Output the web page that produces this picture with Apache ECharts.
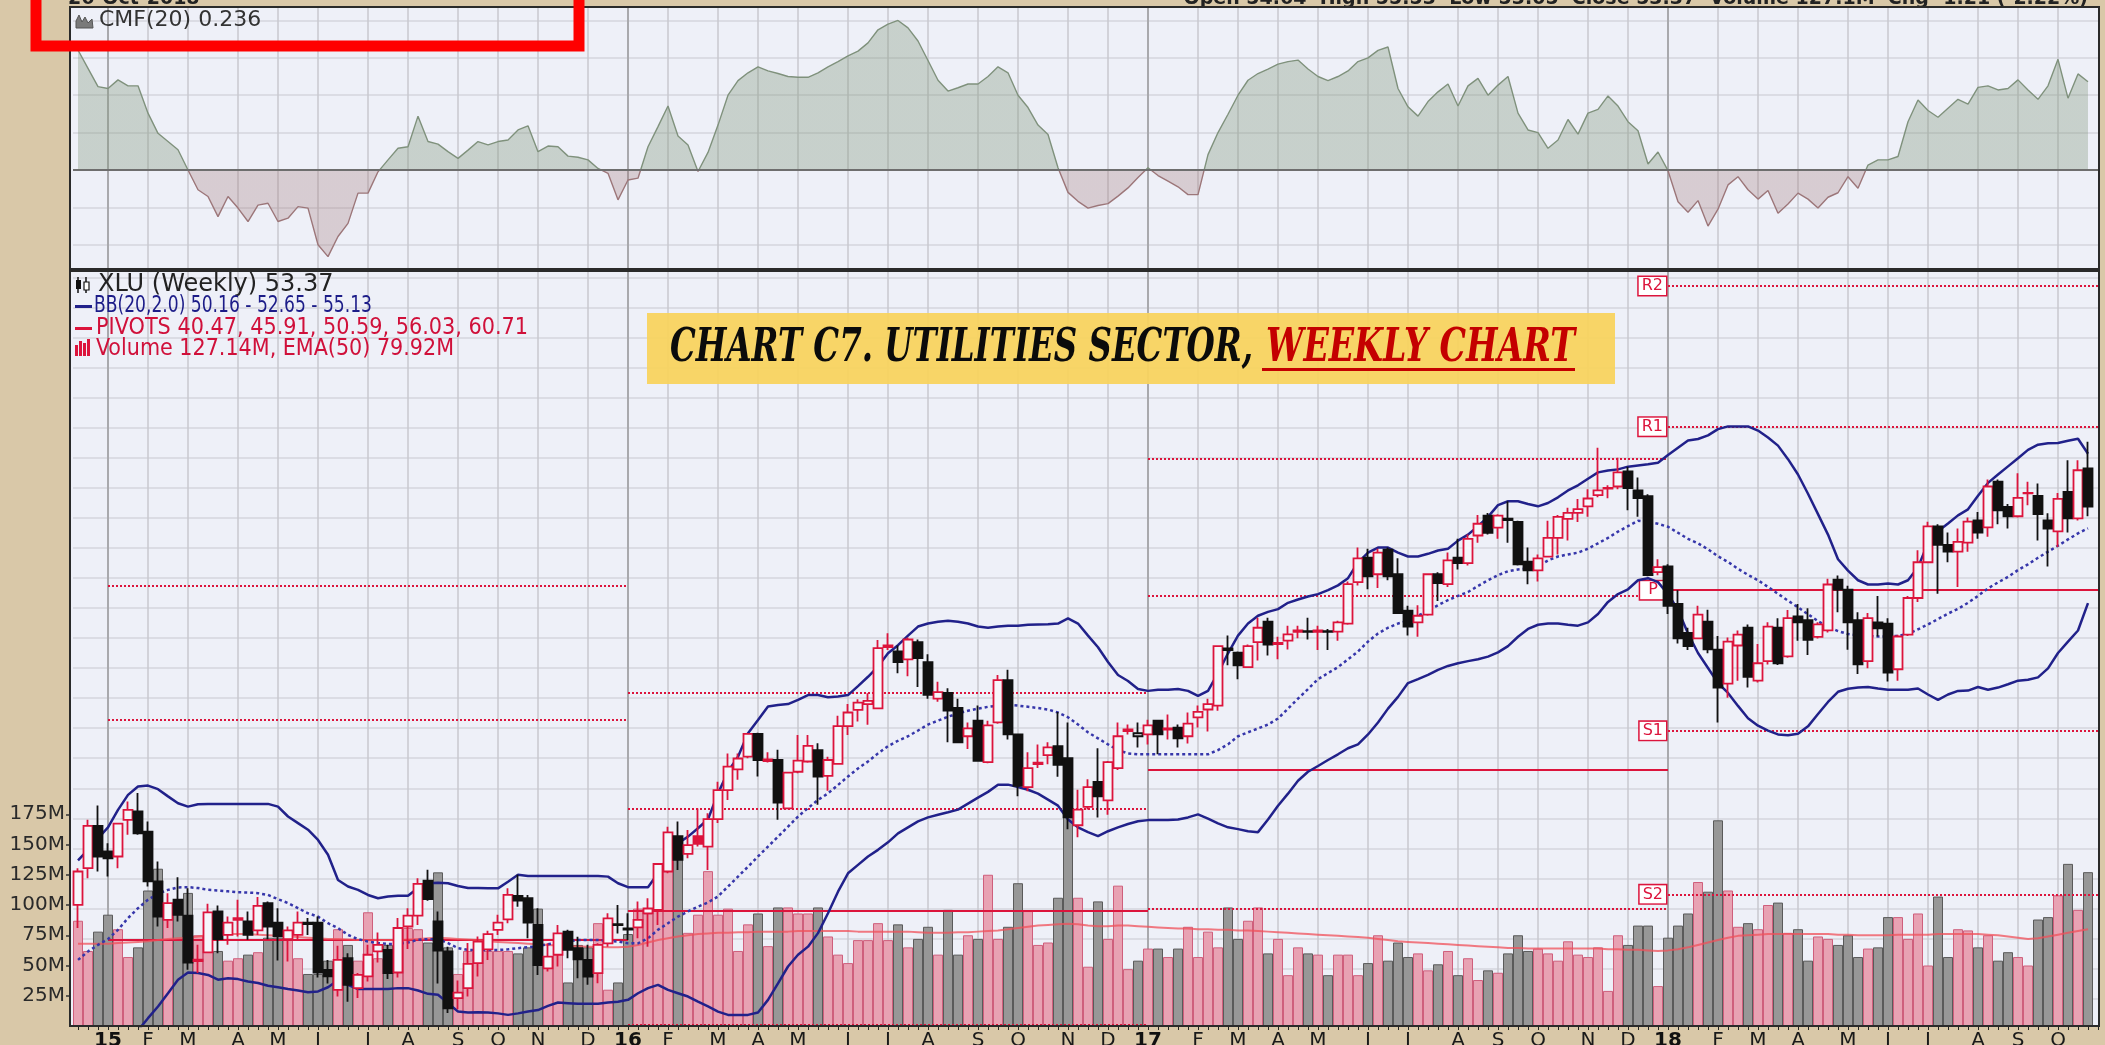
<!DOCTYPE html>
<html>
<head>
<meta charset="utf-8">
<title>XLU weekly</title>
<script src="https://cdn.jsdelivr.net/npm/echarts@6/dist/echarts.min.js"></script>
<style>
  html, body { margin: 0; padding: 0; background: #d9c8a8; }
  #chart { width: 2105px; height: 1045px; }
</style>
</head>
<body>
<div id="chart"></div>
<script>
// ---------------------------------------------------------------
// XLU weekly bars, one entry per week starting Monday 2014-12-15
// ---------------------------------------------------------------
const firstWeekMonday = '2014-12-15';
const monthLetters = ['J', 'F', 'M', 'A', 'M', 'J', 'J', 'A', 'S', 'O', 'N', 'D'];
const monthShort = ['Jan', 'Feb', 'Mar', 'Apr', 'May', 'Jun', 'Jul', 'Aug', 'Sep', 'Oct', 'Nov', 'Dec'];

const opens = [
  40.12, 41.34, 42.75, 41.90, 41.73, 42.95, 43.23, 42.56, 40.90, 39.62,
  40.29, 39.76, 38.25, 38.54, 39.90, 39.12, 39.62, 39.57, 39.27, 40.18,
  39.53, 38.98, 39.12, 39.53, 39.53, 37.96, 37.29, 38.35, 37.35, 37.74,
  38.57, 38.62, 37.87, 39.40, 39.76, 40.93, 39.57, 38.57, 37.02, 37.35,
  38.18, 38.64, 39.29, 39.64, 40.42, 40.34, 39.45, 38.01, 38.46, 39.23,
  38.68, 38.29, 37.85, 38.84, 39.48, 39.34, 39.37, 39.84, 39.95, 41.23,
  42.41, 41.82, 42.41, 42.06, 42.97, 43.94, 44.63, 45.05, 45.81, 44.90,
  44.94, 43.33, 44.55, 44.89, 45.27, 44.41, 44.81, 46.07, 46.61, 46.80,
  46.66, 48.70, 48.55, 48.29, 48.86, 48.20, 46.98, 47.17, 46.67, 45.73,
  46.25, 44.87, 46.19, 47.60, 45.79, 44.04, 44.80, 45.10, 45.40, 45.00,
  42.77, 43.38, 44.21, 43.60, 44.67, 45.90, 45.73, 45.79, 46.25, 45.95,
  46.02, 45.73, 46.36, 46.62, 46.75, 48.65, 48.51, 48.03, 48.86, 49.54,
  48.80, 48.91, 49.20, 49.23, 49.20, 49.20, 49.21, 49.48, 50.86, 51.67,
  51.12, 51.94, 51.12, 49.91, 49.52, 49.78, 51.12, 50.79, 51.67, 51.49,
  52.41, 53.07, 52.67, 52.97, 52.86, 51.54, 51.25, 51.71, 52.33, 52.96,
  53.16, 53.38, 53.75, 53.97, 54.04, 54.54, 53.91, 53.72, 51.19, 51.38,
  50.13, 49.17, 48.99, 49.54, 48.61, 47.48, 48.75, 49.34, 47.58, 48.23,
  49.34, 48.39, 49.72, 49.59, 49.04, 49.25, 50.94, 50.61, 49.59, 48.23,
  49.52, 49.48, 47.96, 49.11, 50.33, 51.52, 52.71, 52.10, 51.87, 52.17,
  52.91, 52.68, 54.20, 53.36, 53.05, 53.81, 53.73, 52.91, 52.55, 53.86,
  52.98, 54.64
];
const closes = [
  41.23, 42.75, 41.73, 41.67, 42.82, 43.28, 42.50, 40.90, 39.73, 40.18,
  39.79, 38.20, 38.30, 39.87, 38.98, 39.53, 39.68, 39.12, 40.09, 39.40,
  39.07, 39.27, 39.53, 39.48, 37.87, 37.74, 38.29, 37.46, 37.79, 38.46,
  38.79, 37.85, 39.35, 39.76, 40.82, 40.31, 38.60, 36.68, 37.20, 38.16,
  38.90, 39.15, 39.53, 40.45, 40.26, 39.53, 38.12, 38.40, 39.17, 38.62,
  38.31, 37.73, 38.79, 39.67, 39.45, 39.30, 39.62, 40.00, 41.48, 42.53,
  41.62, 42.11, 42.15, 42.97, 43.94, 44.72, 44.99, 45.81, 44.94, 44.96,
  43.52, 44.52, 44.92, 45.41, 44.39, 44.94, 46.07, 46.52, 46.85, 46.91,
  48.66, 48.75, 48.20, 48.95, 48.33, 47.11, 47.20, 46.58, 45.53, 45.99,
  44.91, 46.09, 47.60, 45.79, 44.08, 44.67, 44.85, 45.36, 44.78, 43.03,
  43.29, 44.04, 43.73, 44.87, 45.73, 45.96, 45.83, 46.09, 45.79, 45.99,
  45.66, 46.15, 46.54, 46.80, 48.73, 48.60, 48.09, 48.73, 49.34, 48.78,
  48.84, 49.12, 49.25, 49.20, 49.25, 49.23, 49.52, 50.79, 51.65, 51.05,
  51.84, 51.05, 49.83, 49.38, 49.74, 51.12, 50.83, 51.58, 51.49, 52.30,
  52.80, 52.50, 53.07, 52.92, 51.45, 51.25, 51.65, 52.33, 53.03, 53.16,
  53.29, 53.64, 53.91, 53.99, 54.51, 53.99, 53.65, 51.09, 51.36, 50.07,
  48.99, 48.73, 49.78, 48.62, 47.35, 48.88, 49.11, 47.71, 48.16, 49.38,
  48.16, 49.66, 49.52, 48.94, 49.45, 50.78, 50.61, 49.52, 48.12, 49.66,
  49.32, 47.85, 49.05, 50.33, 51.52, 52.71, 52.10, 51.87, 52.20, 52.87,
  52.51, 54.04, 53.25, 53.05, 53.66, 53.83, 53.12, 52.64, 53.63, 52.98,
  54.58, 53.37
];
const lows = [
  39.35, 41.01, 41.23, 41.06, 41.34, 42.45, 42.45, 40.73, 39.40, 39.35,
  39.57, 37.96, 37.85, 38.51, 38.51, 38.79, 39.07, 38.96, 39.12, 38.98,
  38.27, 38.24, 38.96, 39.12, 37.70, 37.50, 37.07, 36.90, 37.02, 37.57,
  38.20, 37.65, 37.70, 38.65, 39.45, 40.26, 37.50, 36.52, 36.65, 37.07,
  37.74, 38.29, 39.12, 39.51, 40.06, 39.01, 37.79, 37.90, 38.07, 38.34,
  37.68, 37.46, 37.51, 38.73, 39.17, 38.95, 39.01, 38.73, 39.45, 41.17,
  41.28, 41.67, 42.06, 41.28, 42.84, 43.61, 44.28, 45.00, 44.39, 44.86,
  42.95, 43.33, 44.50, 44.85, 43.45, 43.92, 44.78, 45.77, 46.22, 46.11,
  46.66, 48.60, 47.83, 47.73, 47.37, 46.98, 46.88, 45.53, 45.53, 45.31,
  44.91, 44.83, 46.15, 45.62, 43.73, 43.90, 44.67, 44.80, 44.38, 42.64,
  42.37, 43.29, 43.03, 43.12, 44.61, 45.79, 45.36, 45.46, 45.13, 45.62,
  45.36, 45.49, 46.02, 45.89, 46.58, 48.09, 47.63, 48.03, 48.25, 48.42,
  48.29, 48.62, 48.99, 48.95, 48.60, 48.60, 48.91, 49.44, 50.75, 50.62,
  50.66, 50.92, 49.80, 49.08, 49.04, 49.74, 50.23, 50.70, 51.28, 51.41,
  52.17, 52.44, 52.30, 52.17, 51.41, 50.79, 50.88, 51.71, 51.78, 52.24,
  52.86, 53.03, 53.68, 53.65, 53.95, 53.25, 53.03, 51.05, 51.09, 49.80,
  48.82, 48.60, 48.99, 48.49, 46.19, 47.01, 47.58, 47.35, 47.52, 48.12,
  48.10, 48.34, 48.91, 48.43, 48.98, 49.18, 49.86, 48.61, 47.80, 47.99,
  49.05, 47.55, 47.58, 49.07, 50.20, 51.52, 50.47, 51.52, 50.70, 51.87,
  52.30, 52.37, 52.78, 52.64, 53.01, 53.42, 52.24, 51.38, 52.03, 52.51,
  52.91, 53.05
];
const highs = [
  41.34, 42.95, 43.43, 42.17, 42.84, 43.56, 43.84, 42.89, 41.56, 40.51,
  41.04, 40.67, 38.79, 40.16, 40.10, 39.73, 40.29, 39.90, 40.38, 40.23,
  40.01, 39.40, 39.90, 39.68, 39.73, 38.29, 38.76, 38.51, 37.85, 38.79,
  39.20, 38.79, 39.68, 40.01, 41.01, 41.29, 39.90, 38.73, 37.60, 38.85,
  39.07, 39.26, 39.79, 40.67, 41.12, 40.45, 40.01, 38.84, 39.45, 39.29,
  39.06, 38.79, 38.84, 39.84, 40.12, 39.84, 40.23, 40.34, 41.50, 42.72,
  42.89, 42.61, 43.33, 43.17, 44.22, 45.16, 45.16, 45.83, 45.85, 45.20,
  45.28, 44.55, 45.77, 45.77, 45.50, 45.05, 46.41, 46.80, 46.96, 47.16,
  48.93, 49.16, 48.75, 49.02, 48.95, 48.46, 47.54, 47.33, 46.98, 46.19,
  46.75, 46.25, 47.77, 47.94, 45.79, 45.20, 45.46, 45.53, 46.54, 46.19,
  43.95, 44.30, 45.33, 44.91, 46.19, 46.12, 46.19, 46.28, 46.28, 46.45,
  46.12, 46.52, 46.75, 46.98, 48.73, 49.08, 48.55, 48.78, 49.67, 49.67,
  49.04, 49.41, 49.41, 49.67, 49.41, 49.30, 49.57, 50.88, 52.01, 51.97,
  51.97, 52.01, 51.65, 50.07, 50.09, 51.15, 51.19, 51.84, 52.30, 52.44,
  53.09, 53.16, 53.12, 53.55, 52.90, 52.01, 51.78, 52.90, 53.09, 53.33,
  53.62, 53.95, 55.33, 54.08, 55.00, 54.70, 54.34, 53.78, 51.62, 51.45,
  50.59, 49.34, 50.07, 49.94, 49.07, 49.02, 49.25, 49.45, 48.80, 49.52,
  49.66, 49.93, 50.13, 49.99, 49.52, 50.97, 51.08, 50.74, 49.86, 49.83,
  50.40, 49.66, 49.11, 50.40, 51.92, 52.87, 52.78, 52.51, 52.64, 53.01,
  53.19, 54.27, 54.27, 53.46, 54.48, 54.20, 54.14, 53.15, 53.82, 54.91,
  54.91, 55.53
];
// weekly volume, millions of shares
const volumes = [
  87, 62, 78, 92, 80, 57, 65, 112, 130, 95,
  100, 110, 75, 82, 62, 54, 56, 59, 61, 73,
  73, 72, 56, 43, 43, 54, 80, 67, 54, 94,
  56, 67, 70, 81, 80, 69, 127, 65, 43, 62,
  69, 62, 62, 62, 60, 65, 97, 54, 70, 36,
  67, 65, 85, 30, 36, 76, 97, 93, 132, 147,
  138, 77, 92, 128, 92, 97, 62, 84, 93, 66,
  98, 98, 93, 93, 98, 74, 59, 52, 71, 71,
  85, 71, 84, 65, 72, 82, 59, 96, 59, 75,
  72, 125, 72, 82, 118, 95, 67, 69, 106, 173,
  106, 49, 103, 72, 116, 47, 54, 64, 64, 57,
  64, 82, 57, 78, 65, 98, 72, 87, 98, 60,
  72, 42, 65, 60, 59, 42, 59, 59, 42, 52,
  75, 54, 69, 57, 60, 46, 51, 62, 42, 56,
  38, 46, 44, 60, 75, 62, 64, 60, 54, 70,
  59, 57, 65, 29, 75, 67, 83, 83, 33, 73,
  83, 93, 119, 111, 170, 112, 82, 85, 80, 100,
  102, 77, 80, 54, 74, 72, 67, 75, 57, 64,
  65, 90, 90, 72, 93, 50, 107, 57, 80, 79,
  65, 75, 54, 61, 57, 50, 88, 90, 108, 134,
  96, 127.14
];
const volumeEma50 = [
  68, 68, 68, 68, 68.5, 69, 69.5, 70, 71, 72,
  72.5, 73, 74, 75, 75.5, 76, 76, 76, 75.5, 75,
  74.5, 74, 73.5, 73, 72.5, 72, 72, 71.5, 71, 71,
  71, 71, 71, 71.5, 72, 72.5, 73, 72.5, 72, 71.5,
  71, 70, 69.5, 69, 68.5, 68, 67.5, 67, 66.5, 66,
  66, 65.5, 65.5, 65, 65, 65.5, 67, 69, 71, 72.5,
  74, 75, 76, 76.5, 77, 77, 77.5, 77.5, 78, 78,
  78, 78, 78.5, 78.5, 78.5, 78.5, 78.5, 78.5, 78, 78,
  78, 78, 78, 78, 77.5, 77, 77, 77, 77.5, 77.5,
  78, 78.5, 79, 80, 81, 82, 83, 83.5, 84, 84.5,
  84, 83, 82.5, 82.5, 83, 83, 82.5, 82, 81.5, 81,
  80.5, 80.5, 80, 80, 79.5, 79.5, 79, 79, 78.5, 78,
  77.5, 77, 76.5, 76, 75.5, 75, 74.5, 74, 73.5, 73,
  72, 71, 70, 69.5, 69, 68.5, 68, 67.5, 67, 66.5,
  66, 65.5, 65, 64.5, 64.5, 64, 64, 64, 64, 64,
  64, 64, 64, 63.5, 63.5, 63, 63, 62.5, 62, 62.5,
  63.5, 65, 67, 69, 71, 73, 74.5, 75, 75.5, 76,
  76, 76, 76, 76, 76, 76, 75.5, 75.5, 75, 75,
  75, 75, 75.5, 75.5, 75.5, 75.5, 76, 76, 76, 76,
  76, 75.5, 75, 74, 73, 72, 72.5, 74, 75.5, 77,
  78.5, 79.92
];
// Bollinger Bands (20, 2.0)
const bbUpper = [
  41.60, 41.95, 42.33, 42.70, 43.28, 43.78, 44.06, 44.09, 43.97, 43.73,
  43.50, 43.39, 43.47, 43.48, 43.48, 43.48, 43.48, 43.48, 43.48, 43.48,
  43.39, 43.06, 42.84, 42.62, 42.28, 41.79, 40.95, 40.73, 40.62, 40.45,
  40.34, 40.40, 40.42, 40.42, 40.68, 40.84, 40.86, 40.84, 40.75, 40.68,
  40.68, 40.67, 40.67, 40.89, 41.12, 41.08, 41.08, 41.08, 41.08, 41.08,
  41.08, 41.08, 41.08, 41.06, 40.84, 40.71, 40.71, 40.71, 41.17, 41.73,
  42.17, 42.39, 42.67, 42.97, 43.83, 44.55, 45.05, 45.83, 46.27, 46.72,
  46.77, 46.80, 46.94, 47.10, 47.10, 47.03, 47.05, 47.10, 47.40, 47.71,
  48.05, 48.49, 48.76, 49.08, 49.38, 49.48, 49.54, 49.57, 49.54, 49.48,
  49.38, 49.34, 49.38, 49.41, 49.41, 49.44, 49.45, 49.46, 49.48, 49.65,
  49.48, 49.08, 48.69, 48.20, 47.77, 47.57, 47.30, 47.24, 47.28, 47.28,
  47.30, 47.24, 47.07, 47.24, 47.83, 48.49, 49.08, 49.48, 49.74, 49.87,
  49.96, 50.17, 50.28, 50.38, 50.46, 50.59, 50.75, 50.99, 51.51, 51.84,
  52.01, 52.01, 51.84, 51.71, 51.71, 51.80, 51.91, 51.97, 52.24, 52.44,
  52.72, 53.03, 53.42, 53.55, 53.55, 53.46, 53.38, 53.49, 53.68, 53.91,
  54.08, 54.30, 54.51, 54.57, 54.61, 54.70, 54.74, 54.78, 54.83, 55.09,
  55.33, 55.57, 55.62, 55.74, 55.95, 56.04, 56.04, 56.04, 55.90, 55.67,
  55.40, 54.95, 54.44, 53.80, 53.12, 52.44, 51.62, 51.24, 50.92, 50.78,
  50.78, 50.81, 50.78, 50.92, 51.35, 52.17, 52.55, 52.81, 53.08, 53.28,
  53.73, 54.16, 54.44, 54.71, 54.98, 55.26, 55.43, 55.48, 55.49, 55.56,
  55.63, 55.13
];
const bbMiddle = [
  38.29, 38.57, 38.79, 38.98, 39.29, 39.68, 40.01, 40.29, 40.49, 40.62,
  40.70, 40.71, 40.68, 40.62, 40.60, 40.57, 40.54, 40.53, 40.51, 40.45,
  40.31, 40.18, 40.01, 39.84, 39.73, 39.51, 39.35, 39.12, 38.98, 38.90,
  38.85, 38.82, 38.82, 38.87, 38.96, 38.98, 38.98, 38.85, 38.68, 38.62,
  38.61, 38.62, 38.62, 38.64, 38.68, 38.71, 38.75, 38.81, 38.86, 38.91,
  38.95, 38.95, 38.95, 38.92, 38.90, 38.84, 38.84, 39.01, 39.29, 39.51,
  39.73, 39.90, 40.06, 40.20, 40.40, 40.73, 41.06, 41.39, 41.73, 42.06,
  42.39, 42.72, 43.06, 43.34, 43.61, 43.83, 44.11, 44.39, 44.66, 44.89,
  45.16, 45.40, 45.58, 45.73, 45.92, 46.12, 46.25, 46.38, 46.49, 46.58,
  46.65, 46.71, 46.75, 46.78, 46.75, 46.71, 46.67, 46.62, 46.52, 46.36,
  46.12, 45.86, 45.66, 45.46, 45.27, 45.16, 45.13, 45.13, 45.13, 45.13,
  45.13, 45.13, 45.13, 45.13, 45.27, 45.46, 45.73, 45.86, 45.99, 46.12,
  46.32, 46.65, 46.98, 47.30, 47.63, 47.83, 48.03, 48.29, 48.55, 48.88,
  49.15, 49.34, 49.48, 49.57, 49.74, 49.91, 50.09, 50.26, 50.40, 50.53,
  50.73, 50.92, 51.09, 51.22, 51.28, 51.32, 51.38, 51.58, 51.71, 51.78,
  51.84, 51.97, 52.15, 52.33, 52.54, 52.72, 52.90, 52.86, 52.80, 52.70,
  52.50, 52.30, 52.15, 51.95, 51.72, 51.53, 51.30, 51.10, 50.92, 50.70,
  50.47, 50.24, 50.02, 49.79, 49.56, 49.37, 49.23, 49.13, 49.09, 49.07,
  49.05, 49.05, 49.07, 49.14, 49.29, 49.45, 49.63, 49.81, 49.97, 50.17,
  50.40, 50.65, 50.85, 51.03, 51.26, 51.45, 51.67, 51.87, 52.07, 52.28,
  52.48, 52.65
];
const bbLower = [
  34.90, 35.20, 35.30, 35.30, 35.30, 35.60, 35.94, 36.35, 36.74, 37.18,
  37.63, 37.87, 37.85, 37.79, 37.63, 37.68, 37.65, 37.57, 37.52, 37.43,
  37.38, 37.32, 37.27, 37.21, 37.24, 37.38, 37.61, 37.46, 37.32, 37.32,
  37.32, 37.32, 37.35, 37.35, 37.27, 37.16, 37.13, 36.85, 36.57, 36.54,
  36.55, 36.54, 36.51, 36.46, 36.51, 36.57, 36.62, 36.76, 36.87, 36.85,
  36.83, 36.83, 36.83, 36.87, 36.90, 36.96, 37.18, 37.35, 37.46, 37.29,
  37.18, 37.07, 36.90, 36.74, 36.57, 36.46, 36.46, 36.46, 36.54, 36.96,
  37.51, 38.07, 38.46, 38.73, 39.18, 39.84, 40.56, 41.17, 41.45, 41.73,
  41.95, 42.20, 42.50, 42.70, 42.90, 43.03, 43.12, 43.20, 43.29, 43.49,
  43.69, 43.88, 44.12, 44.12, 44.04, 43.95, 43.82, 43.62, 43.42, 42.96,
  42.70, 42.54, 42.41, 42.57, 42.70, 42.81, 42.90, 42.94, 42.94, 42.94,
  42.96, 43.03, 43.13, 42.99, 42.83, 42.70, 42.64, 42.57, 42.54, 42.96,
  43.42, 43.82, 44.25, 44.55, 44.74, 44.94, 45.13, 45.33, 45.46, 45.79,
  46.19, 46.65, 47.04, 47.50, 47.63, 47.77, 47.94, 48.07, 48.16, 48.23,
  48.29, 48.38, 48.52, 48.73, 49.04, 49.30, 49.44, 49.48, 49.48, 49.44,
  49.41, 49.52, 49.80, 50.20, 50.46, 50.62, 50.92, 50.99, 50.86, 50.46,
  49.94, 49.15, 48.50, 48.00, 47.50, 47.17, 46.74, 46.33, 46.08, 45.92,
  45.79, 45.76, 45.81, 46.06, 46.47, 46.87, 47.21, 47.31, 47.35, 47.37,
  47.32, 47.28, 47.28, 47.28, 47.32, 47.12, 46.94, 47.12, 47.24, 47.25,
  47.37, 47.28, 47.35, 47.46, 47.58, 47.61, 47.69, 47.99, 48.50, 48.88,
  49.25, 50.16
];
// Chaikin Money Flow (20)
const cmf20 = [
  0.321, 0.272, 0.223, 0.218, 0.241, 0.225, 0.225, 0.152, 0.098, 0.076,
  0.054, 0.000, -0.053, -0.071, -0.125, -0.071, -0.102, -0.138, -0.094, -0.089,
  -0.138, -0.129, -0.098, -0.102, -0.200, -0.232, -0.178, -0.143, -0.062, -0.062,
  -0.005, 0.027, 0.058, 0.062, 0.144, 0.076, 0.069, 0.049, 0.031, 0.053,
  0.076, 0.067, 0.076, 0.080, 0.107, 0.118, 0.049, 0.064, 0.062, 0.037,
  0.034, 0.027, 0.004, -0.009, -0.080, -0.027, -0.022, 0.062, 0.116, 0.171,
  0.091, 0.067, -0.004, 0.047, 0.120, 0.200, 0.239, 0.260, 0.276, 0.265,
  0.258, 0.250, 0.248, 0.248, 0.260, 0.276, 0.290, 0.305, 0.318, 0.340,
  0.375, 0.390, 0.400, 0.380, 0.345, 0.293, 0.240, 0.211, 0.220, 0.230,
  0.230, 0.250, 0.276, 0.260, 0.200, 0.167, 0.120, 0.095, 0.006, -0.060,
  -0.084, -0.102, -0.095, -0.090, -0.070, -0.048, -0.020, 0.006, -0.015, -0.030,
  -0.045, -0.066, -0.066, 0.041, 0.100, 0.149, 0.200, 0.240, 0.258, 0.270,
  0.283, 0.290, 0.294, 0.270, 0.250, 0.239, 0.250, 0.265, 0.290, 0.300,
  0.320, 0.329, 0.218, 0.169, 0.144, 0.183, 0.209, 0.230, 0.171, 0.225,
  0.245, 0.200, 0.227, 0.250, 0.152, 0.107, 0.100, 0.058, 0.080, 0.135,
  0.096, 0.152, 0.162, 0.198, 0.171, 0.129, 0.105, 0.016, 0.048, -0.002,
  -0.085, -0.113, -0.082, -0.150, -0.105, -0.040, -0.018, -0.053, -0.078, -0.055,
  -0.116, -0.091, -0.062, -0.078, -0.102, -0.073, -0.061, -0.018, -0.049, 0.013,
  0.027, 0.027, 0.036, 0.129, 0.187, 0.159, 0.141, 0.165, 0.189, 0.176,
  0.221, 0.225, 0.214, 0.218, 0.241, 0.214, 0.189, 0.225, 0.296, 0.192,
  0.257, 0.236
];
// Yearly pivot levels, each drawn across its calendar year
const pivotYears = [2015, 2016, 2017, 2018];
const pivotR2 = [50.73, 47.18, 54.97, 60.71];
const pivotR1 = [46.27, 43.32, 50.40, 56.03];
const pivotP  = [38.96, 39.93, 44.60, 50.59];
const pivotS1 = [34.50, 36.13, 39.99, 45.91];
const pivotS2 = [27.20, 32.70, 34.30, 40.47];

const volumeTickLabels = [25, 50, 75, 100, 125, 150, 175];
const cmfGridLevels = [-0.2, -0.1, 0.1, 0.2, 0.3, 0.4];

// ---------------------------------------------------------------
// layout
// ---------------------------------------------------------------
const PANEL_X = 70, PANEL_W = 2029;
const CMF_TOP = 7, CMF_H = 262;
const PRICE_TOP = 271, PRICE_H = 755;
const PLOT_LEFT = 73, PLOT_W = 2030;           // 10 px per weekly slot
const PRICE_MIN = 36.09, PRICE_MAX = 61.21;
const CMF_MIN = -0.265, CMF_MAX = 0.436;
const VOL_MAX = 624;

const TAN = '#d9c8a8';
const PANEL_BG = '#eef0f8';
const RED = '#dc143c';
const BLACK = '#111111';
const PINK = '#e8a2b3', PINK_EDGE = '#cf5f7c';
const GREY = '#979797', GREY_EDGE = '#5a5a5a';
const NAVY = '#21218a';
const FONT = '"DejaVu Sans", Verdana, sans-serif';
const NARROW = '"Liberation Sans Narrow", "DejaVu Sans Condensed", "Arial Narrow", sans-serif';

// ---------------------------------------------------------------
// week categories and month boundaries
// ---------------------------------------------------------------
const DAY = 86400000;
const t0 = Date.parse(firstWeekMonday + 'T00:00:00Z');
const weekDates = opens.map((_, i) => new Date(t0 + i * 7 * DAY));
const categories = weekDates.map(d => d.toISOString().slice(0, 10));
categories.push(new Date(t0 + opens.length * 7 * DAY).toISOString().slice(0, 10)); // trailing slot
const monthStarts = [];
for (let i = 1; i < weekDates.length; i++) {
  if (weekDates[i].getUTCMonth() !== weekDates[i - 1].getUTCMonth()) monthStarts.push(i);
}
const yearStartIndex = y => weekDates.findIndex(d => d.getUTCFullYear() === y);
const slotCenter = i => PLOT_LEFT + (i + 0.5) * PLOT_W / categories.length;

// ---------------------------------------------------------------
// series data
// ---------------------------------------------------------------
const candleData = opens.map((o, i) => {
  const c = closes[i];
  const rising = i === 0 ? true : c >= closes[i - 1];
  const col = rising ? RED : BLACK;
  const fill = c >= o ? '#f6f6fb' : col;
  return {
    value: [o, c, lows[i], highs[i]],
    itemStyle: { color: fill, color0: fill, borderColor: col, borderColor0: col, borderColorDoji: col }
  };
});
const volumeData = volumes.map((v, i) => {
  const rising = i === 0 ? true : closes[i] >= closes[i - 1];
  return { value: v, itemStyle: { color: rising ? PINK : GREY, borderColor: rising ? PINK_EDGE : GREY_EDGE } };
});

// grid lines
const vLines = monthStarts.map(i => {
  const jan = weekDates[i].getUTCMonth() === 0;
  return { xAxis: categories[i], lineStyle: { color: jan ? '#a9a9ad' : '#c9c9cf', width: jan ? 2 : 1.5, type: 'solid' } };
});
const priceHLines = [];
for (let p = Math.ceil(PRICE_MIN); p <= Math.floor(PRICE_MAX); p++) {
  priceHLines.push({ yAxis: p, lineStyle: { color: '#d5d6de', width: 1.5, type: 'solid' } });
}
const cmfHLines = cmfGridLevels.map(v => ({ yAxis: v, lineStyle: { color: '#d5d6de', width: 1.5, type: 'solid' } }));

// pivot segments
const pivotLines = [];
pivotYears.forEach((yr, k) => {
  const s = yearStartIndex(yr);
  const nextIdx = yearStartIndex(yr + 1);
  const e = nextIdx < 0 ? categories.length - 1 : nextIdx;
  const last = k === pivotYears.length - 1;
  const levels = [['R2', pivotR2[k]], ['R1', pivotR1[k]], ['P', pivotP[k]], ['S1', pivotS1[k]], ['S2', pivotS2[k]]];
  levels.forEach(([name, v]) => {
    if (v < PRICE_MIN || v > PRICE_MAX) return;
    const solid = name === 'P';
    pivotLines.push([
      {
        coord: [categories[s], v],
        lineStyle: { color: RED, width: 2, type: solid ? 'solid' : [2, 2] },
        label: last ? {
          show: true, position: 'start', formatter: name.length === 1 ? ' ' + name + ' ' : name, distance: 2,
          color: RED, fontFamily: FONT, fontSize: 16, lineHeight: 17,
          backgroundColor: '#ffffff', borderColor: RED, borderWidth: 1.5, padding: [1, 3, 0, 3]
        } : { show: false }
      },
      { coord: [categories[e], v] }
    ]);
  });
});

// CMF colouring: green above zero, brown below
const zeroFrac = CMF_MAX / (CMF_MAX - CMF_MIN);
function splitGradient(above, below) {
  return new echarts.graphic.LinearGradient(0, CMF_TOP, 0, CMF_TOP + CMF_H, [
    { offset: 0, color: above }, { offset: zeroFrac, color: above },
    { offset: zeroFrac, color: below }, { offset: 1, color: below }
  ], true);
}

// ---------------------------------------------------------------
// legend / annotation text
// ---------------------------------------------------------------
const lastIdx = closes.length - 1;
const lastPivot = pivotYears.length - 1;
const cmfText = 'CMF(20) ' + cmf20[lastIdx].toFixed(3);
const priceText = 'XLU (Weekly) ' + closes[lastIdx].toFixed(2);
const bbText = 'BB(20,2.0) ' + bbLower[lastIdx].toFixed(2) + ' - ' + bbMiddle[lastIdx].toFixed(2) + ' - ' + bbUpper[lastIdx].toFixed(2);
const pivotText = 'PIVOTS ' + [pivotS2, pivotS1, pivotP, pivotR1, pivotR2].map(a => a[lastPivot].toFixed(2)).join(', ');
const volText = 'Volume ' + volumes[lastIdx].toFixed(2) + 'M, EMA(50) ' + volumeEma50[lastIdx].toFixed(2) + 'M';
const chg = closes[lastIdx] - closes[lastIdx - 1];
const quoteText = 'Open ' + opens[lastIdx].toFixed(2) + '  High ' + highs[lastIdx].toFixed(2) +
  '  Low ' + lows[lastIdx].toFixed(2) + '  Close ' + closes[lastIdx].toFixed(2) +
  '  Volume ' + volumes[lastIdx].toFixed(1) + 'M  Chg ' + chg.toFixed(2) +
  ' (' + (chg / closes[lastIdx - 1] * 100).toFixed(2) + '%)';
const lastFriday = new Date(weekDates[lastIdx].getTime() + 4 * DAY);
const dateText = lastFriday.getUTCDate() + '-' + monthShort[lastFriday.getUTCMonth()] + '-' + lastFriday.getUTCFullYear();

function textWidth(text, font) {
  const ctx = document.createElement('canvas').getContext('2d');
  ctx.font = font;
  return ctx.measureText(text).width;
}
const legendFont = '23px ' + NARROW;
const bbScale = 278 / textWidth(bbText, legendFont);
const pivotScale = 432 / textWidth(pivotText, legendFont);
const volScale = 358 / textWidth(volText, legendFont);

const titleFont = 'italic bold 46px "DejaVu Serif Condensed", "DejaVu Serif", serif';
const title1 = 'CHART C7. UTILITIES SECTOR,';
const title2 = 'WEEKLY CHART';
const title1Scale = 583 / textWidth(title1, titleFont);
const title2Scale = 309 / textWidth(title2, titleFont);

// month / year labels under the time axis, one at each month's first week
const monthLabelEls = monthStarts.map(i => {
  const d = weekDates[i];
  const m = d.getUTCMonth();
  const isYear = m === 0;
  return {
    type: 'text', z: 70, x: slotCenter(i), y: 1041,
    style: {
      text: isYear ? String(d.getUTCFullYear()).slice(2) : monthLetters[m],
      font: (isYear ? 'bold ' : '') + '20px ' + FONT,
      fill: isYear ? '#111' : '#1a1a1a', align: 'center', verticalAlign: 'middle'
    }
  };
});

const graphics = [
  // header line above the panels (mostly hidden behind them)
  { type: 'text', z: -20, x: 68, y: 9, style: { text: dateText, font: 'bold 19px ' + FONT, fill: '#222', verticalAlign: 'bottom' } },
  { type: 'text', z: -20, x: 2088, y: 9, style: { text: quoteText, font: 'bold 19px ' + FONT, fill: '#222', align: 'right', verticalAlign: 'bottom' } },

  // panel backgrounds
  { type: 'rect', z: -10, shape: { x: PANEL_X, y: CMF_TOP, width: PANEL_W, height: CMF_H }, style: { fill: PANEL_BG } },
  { type: 'rect', z: -10, shape: { x: PANEL_X, y: PRICE_TOP, width: PANEL_W, height: PRICE_H }, style: { fill: PANEL_BG } },
  // right margin strip and panel frames
  { type: 'rect', z: 50, shape: { x: 2100, y: 0, width: 5, height: 1045 }, style: { fill: TAN } },
  { type: 'rect', z: 60, shape: { x: PANEL_X, y: CMF_TOP, width: PANEL_W, height: CMF_H }, style: { fill: null, stroke: '#2a2a2a', lineWidth: 2 } },
  { type: 'rect', z: 60, shape: { x: PANEL_X, y: PRICE_TOP, width: PANEL_W, height: PRICE_H }, style: { fill: null, stroke: '#2a2a2a', lineWidth: 2 } },

  // CMF caption
  { type: 'polygon', z: 70, shape: { points: [[76, 28], [76, 21], [79, 15], [82, 22], [85, 17], [88, 23], [92, 19], [93, 28]] }, style: { fill: '#7a7a7a', stroke: '#555', lineWidth: 1 } },
  { type: 'text', z: 70, x: 99, y: 20, style: { text: cmfText, font: '22px ' + FONT, fill: '#333', verticalAlign: 'middle' } },

  // price panel legend
  { type: 'line', z: 70, shape: { x1: 78, y1: 277, x2: 78, y2: 293 }, style: { stroke: '#111', lineWidth: 1.5 } },
  { type: 'rect', z: 70, shape: { x: 76, y: 280, width: 5, height: 9 }, style: { fill: '#111' } },
  { type: 'line', z: 70, shape: { x1: 86, y1: 277, x2: 86, y2: 293 }, style: { stroke: '#111', lineWidth: 1.5 } },
  { type: 'rect', z: 70, shape: { x: 84, y: 282, width: 5, height: 8 }, style: { fill: '#fff', stroke: '#111', lineWidth: 1.2 } },
  { type: 'text', z: 70, x: 98, y: 285, style: { text: priceText, font: '24px ' + FONT, fill: '#222', verticalAlign: 'middle' } },
  { type: 'rect', z: 70, shape: { x: 75, y: 305, width: 17, height: 3 }, style: { fill: NAVY } },
  { type: 'text', z: 70, x: 94, y: 306, scaleX: bbScale, style: { text: bbText, font: legendFont, fill: '#1c1c88', verticalAlign: 'middle' } },
  { type: 'rect', z: 70, shape: { x: 75, y: 327, width: 17, height: 3 }, style: { fill: RED } },
  { type: 'text', z: 70, x: 96, y: 328, scaleX: pivotScale, style: { text: pivotText, font: legendFont, fill: '#d0103a', verticalAlign: 'middle' } },
  { type: 'rect', z: 70, shape: { x: 75, y: 345, width: 3, height: 11 }, style: { fill: RED } },
  { type: 'rect', z: 70, shape: { x: 79, y: 341, width: 3, height: 15 }, style: { fill: RED } },
  { type: 'rect', z: 70, shape: { x: 83, y: 343, width: 3, height: 13 }, style: { fill: RED } },
  { type: 'rect', z: 70, shape: { x: 87, y: 339, width: 3, height: 17 }, style: { fill: RED } },
  { type: 'text', z: 70, x: 96, y: 349, scaleX: volScale, style: { text: volText, font: legendFont, fill: '#d0103a', verticalAlign: 'middle' } },

  // title banner
  { type: 'rect', z: 70, shape: { x: 647, y: 313, width: 968, height: 71 }, style: { fill: '#f8d35f', opacity: 0.95 } },
  { type: 'text', z: 71, x: 670, y: 349, scaleX: title1Scale,
    style: { text: title1, font: titleFont, fill: '#0b0b0b', verticalAlign: 'middle',
             shadowColor: 'rgba(0,0,0,0.45)', shadowBlur: 2, shadowOffsetX: 3, shadowOffsetY: 3 } },
  { type: 'text', z: 71, x: 1266, y: 349, scaleX: title2Scale,
    style: { text: title2, font: titleFont, fill: '#c40000', verticalAlign: 'middle',
             shadowColor: 'rgba(0,0,0,0.35)', shadowBlur: 2, shadowOffsetX: 3, shadowOffsetY: 3 } },
  { type: 'rect', z: 71, shape: { x: 1262, y: 368, width: 313, height: 3 }, style: { fill: '#c40000' } },

  // highlight frame
  { type: 'rect', z: 90, shape: { x: 36, y: -20, width: 543, height: 66 }, style: { fill: null, stroke: '#ff0000', lineWidth: 11 } }
].concat(monthLabelEls);

// ---------------------------------------------------------------
// chart
// ---------------------------------------------------------------
const chart = echarts.init(document.getElementById('chart'), null, { renderer: 'canvas', width: 2105, height: 1045 });

const option = {
  animation: false,
  backgroundColor: TAN,
  grid: [
    { left: PLOT_LEFT, top: CMF_TOP, width: PLOT_W, height: CMF_H, outerBoundsMode: 'none', containLabel: false },
    { left: PLOT_LEFT, top: PRICE_TOP, width: PLOT_W, height: PRICE_H, outerBoundsMode: 'none', containLabel: false }
  ],
  xAxis: [
    { type: 'category', gridIndex: 0, data: categories, boundaryGap: true, show: false },
    {
      type: 'category', gridIndex: 1, data: categories, boundaryGap: true,
      axisLine: { show: false },
      axisTick: { show: true, interval: 0, alignWithLabel: true, length: 4, lineStyle: { color: '#222', width: 1 } },
      axisLabel: { show: false },
      splitLine: { show: false }
    }
  ],
  yAxis: [
    { type: 'value', gridIndex: 0, min: CMF_MIN, max: CMF_MAX, show: false },
    { type: 'value', gridIndex: 1, min: PRICE_MIN, max: PRICE_MAX, show: false },
    {
      type: 'value', gridIndex: 1, min: 0, max: VOL_MAX, position: 'left', offset: 3,
      axisLine: { show: false },
      splitLine: { show: false },
      axisTick: { show: true, length: 4, customValues: volumeTickLabels, lineStyle: { color: '#333', width: 1.5 } },
      axisLabel: {
        customValues: volumeTickLabels, margin: 5, color: '#2a2a2a', fontFamily: FONT, fontSize: 20,
        formatter: v => (v > 0 && v <= 175 ? v + 'M' : '')
      }
    }
  ],
  graphic: { elements: graphics },
  series: [
    { // CMF panel grid
      type: 'line', xAxisIndex: 0, yAxisIndex: 0, data: [], silent: true, z: 1,
      markLine: { silent: true, z: 1, symbol: ['none', 'none'], label: { show: false }, animation: false, data: [...cmfHLines, ...vLines] }
    },
    { // CMF(20)
      type: 'line', xAxisIndex: 0, yAxisIndex: 0, data: cmf20, z: 3, silent: true,
      showSymbol: false,
      lineStyle: { width: 1.4, color: splitGradient('#7f917c', '#9c7679') },
      areaStyle: { origin: 'auto', color: splitGradient('rgba(128,150,122,0.5)', 'rgba(160,118,118,0.42)') }
    },
    { // CMF zero line
      type: 'line', xAxisIndex: 0, yAxisIndex: 0, data: [], silent: true, z: 4,
      markLine: { silent: true, z: 4, symbol: ['none', 'none'], label: { show: false }, animation: false,
        data: [{ yAxis: 0, lineStyle: { color: '#6e6e6e', width: 2, type: 'solid' } }] }
    },
    { // price panel grid
      type: 'line', xAxisIndex: 1, yAxisIndex: 1, data: [], silent: true, z: 1,
      markLine: { silent: true, z: 1, symbol: ['none', 'none'], label: { show: false }, animation: false, data: [...priceHLines, ...vLines] }
    },
    { // volume
      type: 'bar', xAxisIndex: 1, yAxisIndex: 2, data: volumeData, barWidth: 10, z: 2, silent: true,
      itemStyle: { borderWidth: 1 }
    },
    { // volume EMA(50)
      type: 'line', xAxisIndex: 1, yAxisIndex: 2, data: volumeEma50, z: 3, silent: true,
      showSymbol: false, lineStyle: { color: 'rgba(240,80,90,0.75)', width: 2 }
    },
    { // yearly pivots
      type: 'line', xAxisIndex: 1, yAxisIndex: 1, data: [], silent: true, z: 3,
      markLine: { silent: true, z: 3, symbol: ['none', 'none'], animation: false, data: pivotLines }
    },
    { type: 'line', xAxisIndex: 1, yAxisIndex: 1, data: bbUpper, z: 4, silent: true, showSymbol: false,
      lineStyle: { color: NAVY, width: 2.5 } },
    { type: 'line', xAxisIndex: 1, yAxisIndex: 1, data: bbMiddle, z: 4, silent: true, showSymbol: false,
      lineStyle: { color: '#3636aa', width: 2.5, type: [3, 3] } },
    { type: 'line', xAxisIndex: 1, yAxisIndex: 1, data: bbLower, z: 4, silent: true, showSymbol: false,
      lineStyle: { color: NAVY, width: 2.5 } },
    { // weekly candles
      type: 'candlestick', xAxisIndex: 1, yAxisIndex: 1, data: candleData, barWidth: 9, z: 6, silent: true,
      itemStyle: { borderWidth: 1.8 }
    }
  ]
};
chart.setOption(option);
</script>
</body>
</html>
